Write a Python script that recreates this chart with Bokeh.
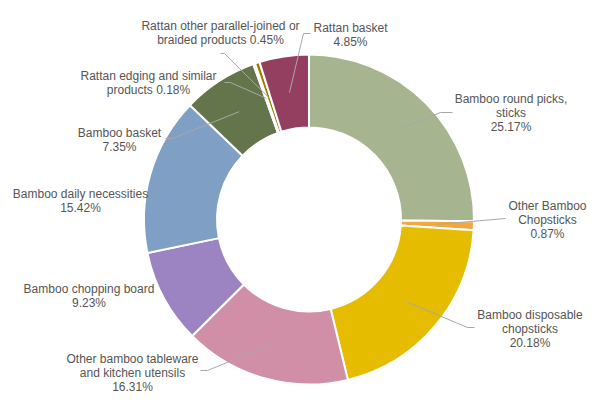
import math
from bokeh.plotting import figure
from bokeh.models import Range1d, ColumnDataSource
from bokeh.embed import file_html
from bokeh.resources import INLINE
from bokeh.core.properties import value

# ---- data ----
categories = [
    "Bamboo round picks, sticks",
    "Other Bamboo Chopsticks",
    "Bamboo disposable chopsticks",
    "Other bamboo tableware and kitchen utensils",
    "Bamboo chopping board",
    "Bamboo daily necessities",
    "Bamboo basket",
    "Rattan edging and similar products",
    "Rattan other parallel-joined or braided products",
    "Rattan basket",
]
shares = [25.17, 0.87, 20.18, 16.31, 9.23, 15.42, 7.35, 0.18, 0.45, 4.85]
colors = ["#a6b48f", "#f2a741", "#e6bc00", "#d08fa7", "#9c84c2",
          "#7f9fc4", "#64744b", "#efe9d6", "#9e7b00", "#943f5f"]
label_templates = [
    ["Bamboo round picks,", "sticks", "{p}"],
    ["Other Bamboo", "Chopsticks", "{p}"],
    ["Bamboo disposable", "chopsticks", "{p}"],
    ["Other bamboo tableware", "and kitchen utensils", "{p}"],
    ["Bamboo chopping board", "{p}"],
    ["Bamboo daily necessities", "{p}"],
    ["Bamboo basket", "{p}"],
    ["Rattan edging and similar", "products {p}"],
    ["Rattan other parallel-joined or", "braided products {p}"],
    ["Rattan basket", "{p}"],
]

# ---- layout (image pixel coordinates) ----
W, H = 587, 393
cx, cy = 308.5, 219.0
r_in, r_out = 92, 165
label_pos = [
    (510.5, 98), (547, 205), (529.5, 314), (132, 358), (88.5, 288),
    (80, 193), (119, 132), (148, 75), (220, 25), (350, 27),
]
line_step = 14.2
# leader: (elbow, end) or None
leaders = [
    ((440, 112), (452, 112)),
    ((505, 218), (505, 218)),
    ((467, 327), (474, 327)),
    ((207, 370), (200, 370)),
    None,
    None,
    ((172, 138), (165, 138)),
    ((230, 82), (224, 82)),
    ((224, 53), (220, 53)),
    ((303, 33), (310, 33)),
]

p = figure(width=W, height=H, output_backend="svg", toolbar_location=None,
           x_axis_type=None, y_axis_type=None, min_border=0,
           x_range=Range1d(0, W), y_range=Range1d(-H, 0))
p.grid.visible = False
p.outline_line_color = None
p.background_fill_color = "white"

total = sum(shares)
starts, ends, mids = [], [], []
cum = 0.0
for s in shares:
    a0 = cum / total
    cum += s
    a1 = cum / total
    starts.append(math.pi / 2 - 2 * math.pi * a0)
    ends.append(math.pi / 2 - 2 * math.pi * a1)
    mids.append((a0 + a1) / 2)

src = ColumnDataSource(dict(x=[cx] * len(shares), y=[-cy] * len(shares),
                            start=starts, end=ends, color=colors, name=categories))
p.annular_wedge(x="x", y="y", inner_radius=r_in, outer_radius=r_out,
                start_angle="start", end_angle="end", direction="clock",
                fill_color="color", line_color="white", line_width=2, source=src)

# leader lines
r_mid = (r_in + r_out) / 2
for i, ld in enumerate(leaders):
    if ld is None:
        continue
    ang = 2 * math.pi * mids[i]
    ax = cx + r_mid * math.sin(ang)
    ay = cy - r_mid * math.cos(ang)
    (ex, ey), (tx, ty) = ld
    p.line([ax, ex, tx], [-ay, -ey, -ty], line_color="#a8a8a8", line_width=1)

# labels
tx_, ty_, tt_ = [], [], []
for i, tmpl in enumerate(label_templates):
    pct = f"{shares[i]:.2f}%"
    lx, ly = label_pos[i]
    for k, ln in enumerate(tmpl):
        tx_.append(lx)
        ty_.append(-(ly + k * line_step))
        tt_.append(ln.replace("{p}", pct))
p.text(x=tx_, y=ty_, text=tt_, text_align="center", text_baseline="middle",
       text_font=value("Liberation Sans"), text_font_size="12px",
       text_color="#555555")

open("out.html", "w").write(file_html(p, INLINE))
